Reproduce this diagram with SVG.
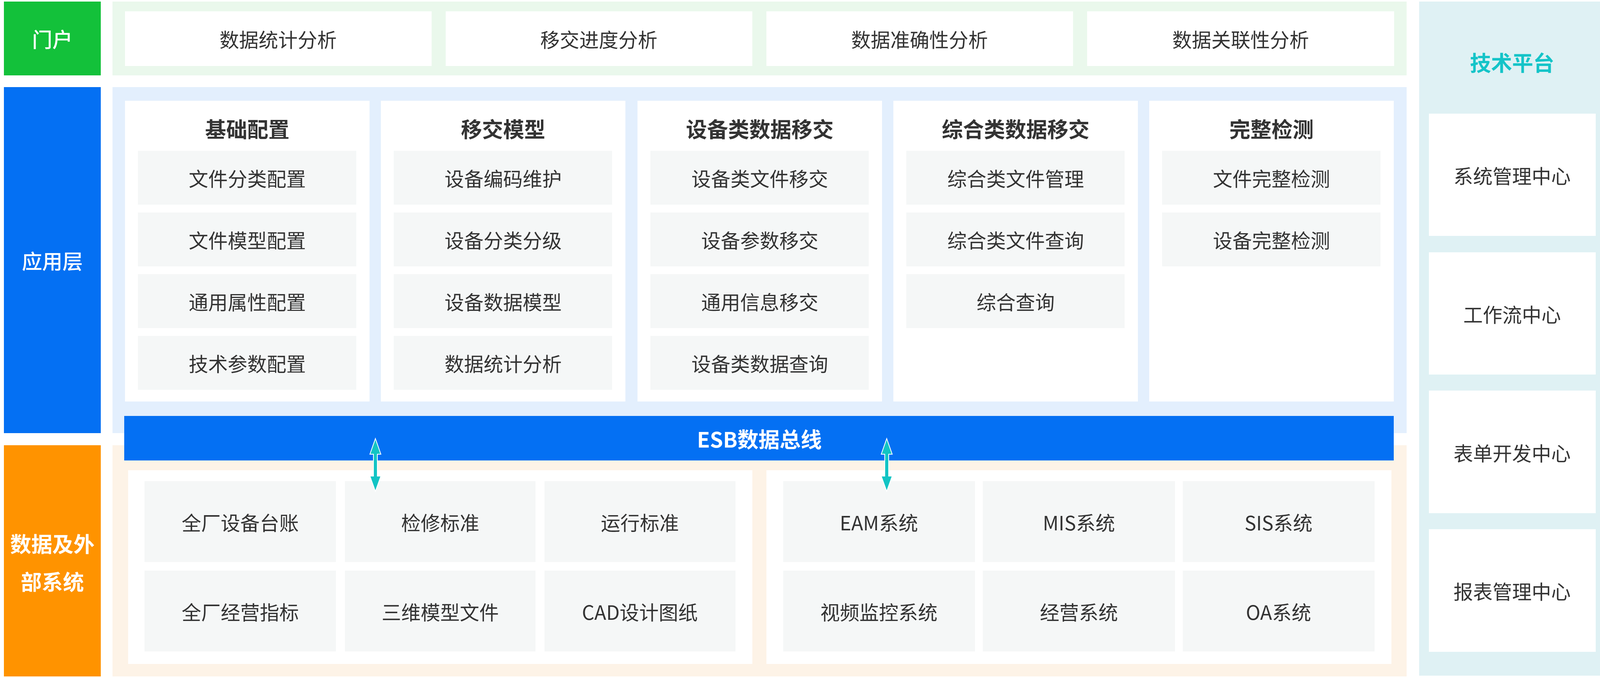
<svg xmlns="http://www.w3.org/2000/svg" width="4125" height="1736" viewBox="0 0 4125 1736">
<style>
text{font-family:"Noto Sans CJK SC","Noto Sans",sans-serif;text-anchor:middle;dominant-baseline:central}
.t{font-size:50px;fill:#333}
.b{font-size:54px;font-weight:bold;fill:#333}
.w{font-size:52px;fill:#fff;font-weight:500}
.wb{font-size:54px;fill:#fff;font-weight:bold}
.box{fill:#fff}
.cell{fill:#f5f7f7}
</style>
<rect width="4125" height="1736" fill="#fff"/>
<g id="portal">
<rect x="10" y="4" width="248" height="189" fill="#13c13a"/><text class="w" x="134" y="98">门户</text>
<rect x="288" y="4" width="3313" height="189" fill="#eaf8ec"/>
<rect class="box" x="320" y="29" width="785" height="140"/><text class="t" x="712" y="99">数据统计分析</text>
<rect class="box" x="1141" y="29" width="785" height="140"/><text class="t" x="1533" y="99">移交进度分析</text>
<rect class="box" x="1962" y="29" width="785" height="140"/><text class="t" x="2354" y="99">数据准确性分析</text>
<rect class="box" x="2783" y="29" width="786" height="140"/><text class="t" x="3176" y="99">数据关联性分析</text>
</g>
<g id="app">
<rect x="10" y="223" width="248" height="886" fill="#0470f3"/><text class="w" x="134" y="666">应用层</text>
<rect x="288" y="223" width="3313" height="886" fill="#e3effd"/>
<rect class="box" x="320" y="258" width="626" height="770"/><text class="b" x="633" y="328">基础配置</text>
<rect class="cell" x="353" y="386" width="559" height="138"/><text class="t" x="633" y="455">文件分类配置</text>
<rect class="cell" x="353" y="544" width="559" height="138"/><text class="t" x="633" y="613">文件模型配置</text>
<rect class="cell" x="353" y="702" width="559" height="138"/><text class="t" x="633" y="771">通用属性配置</text>
<rect class="cell" x="353" y="860" width="559" height="138"/><text class="t" x="633" y="929">技术参数配置</text>
<rect class="box" x="975" y="258" width="626" height="770"/><text class="b" x="1288" y="328">移交模型</text>
<rect class="cell" x="1008" y="386" width="559" height="138"/><text class="t" x="1288" y="455">设备编码维护</text>
<rect class="cell" x="1008" y="544" width="559" height="138"/><text class="t" x="1288" y="613">设备分类分级</text>
<rect class="cell" x="1008" y="702" width="559" height="138"/><text class="t" x="1288" y="771">设备数据模型</text>
<rect class="cell" x="1008" y="860" width="559" height="138"/><text class="t" x="1288" y="929">数据统计分析</text>
<rect class="box" x="1632" y="258" width="626" height="770"/><text class="b" x="1945" y="328">设备类数据移交</text>
<rect class="cell" x="1665" y="386" width="559" height="138"/><text class="t" x="1945" y="455">设备类文件移交</text>
<rect class="cell" x="1665" y="544" width="559" height="138"/><text class="t" x="1945" y="613">设备参数移交</text>
<rect class="cell" x="1665" y="702" width="559" height="138"/><text class="t" x="1945" y="771">通用信息移交</text>
<rect class="cell" x="1665" y="860" width="559" height="138"/><text class="t" x="1945" y="929">设备类数据查询</text>
<rect class="box" x="2287" y="258" width="626" height="770"/><text class="b" x="2600" y="328">综合类数据移交</text>
<rect class="cell" x="2320" y="386" width="559" height="138"/><text class="t" x="2600" y="455">综合类文件管理</text>
<rect class="cell" x="2320" y="544" width="559" height="138"/><text class="t" x="2600" y="613">综合类文件查询</text>
<rect class="cell" x="2320" y="702" width="559" height="138"/><text class="t" x="2600" y="771">综合查询</text>
<rect class="box" x="2942" y="258" width="626" height="770"/><text class="b" x="3255" y="328">完整检测</text>
<rect class="cell" x="2975" y="386" width="559" height="138"/><text class="t" x="3255" y="455">文件完整检测</text>
<rect class="cell" x="2975" y="544" width="559" height="138"/><text class="t" x="3255" y="613">设备完整检测</text>
</g>
<g id="data">
<rect x="10" y="1140" width="248" height="592" fill="#ff9300"/>
<text class="wb" x="134" y="1390">数据及外</text><text class="wb" x="134" y="1487">部系统</text>
<rect x="288" y="1140" width="3313" height="592" fill="#fdf3e7"/>
<rect class="box" x="328" y="1204" width="1598" height="496"/>
<rect class="cell" x="370" y="1232" width="490" height="207"/><text class="t" x="615" y="1336">全厂设备台账</text>
<rect class="cell" x="883" y="1232" width="488" height="207"/><text class="t" x="1127" y="1336">检修标准</text>
<rect class="cell" x="1394" y="1232" width="489" height="207"/><text class="t" x="1638" y="1336">运行标准</text>
<rect class="cell" x="370" y="1461" width="490" height="207"/><text class="t" x="615" y="1565">全厂经营指标</text>
<rect class="cell" x="883" y="1461" width="488" height="207"/><text class="t" x="1127" y="1565">三维模型文件</text>
<rect class="cell" x="1394" y="1461" width="489" height="207"/><text class="t" x="1638" y="1565">CAD设计图纸</text>
<rect class="box" x="1962" y="1204" width="1600" height="496"/>
<rect class="cell" x="2005" y="1232" width="491" height="207"/><text class="t" x="2250" y="1336">EAM系统</text>
<rect class="cell" x="2516" y="1232" width="492" height="207"/><text class="t" x="2762" y="1336">MIS系统</text>
<rect class="cell" x="3028" y="1232" width="491" height="207"/><text class="t" x="3273" y="1336">SIS系统</text>
<rect class="cell" x="2005" y="1461" width="491" height="207"/><text class="t" x="2250" y="1565">视频监控系统</text>
<rect class="cell" x="2516" y="1461" width="492" height="207"/><text class="t" x="2762" y="1565">经营系统</text>
<rect class="cell" x="3028" y="1461" width="491" height="207"/><text class="t" x="3273" y="1565">OA系统</text>
</g>
<g id="esb">
<rect x="318" y="1065" width="3250" height="114" fill="#0470f3"/>
<text class="wb" x="1944" y="1122">ESB数据总线</text>
</g>
<g id="tech">
<rect x="3633" y="4" width="477" height="1726" fill="#dff1f4"/>
<text x="3871" y="158" style="font-size:54px;font-weight:bold;fill:#14c4c8">技术平台</text>
<rect class="box" x="3658" y="291" width="427" height="313"/><text class="t" x="3871" y="448">系统管理中心</text>
<rect class="box" x="3658" y="646" width="427" height="313"/><text class="t" x="3871" y="803">工作流中心</text>
<rect class="box" x="3658" y="1000" width="427" height="314"/><text class="t" x="3871" y="1158">表单开发中心</text>
<rect class="box" x="3658" y="1355" width="427" height="314"/><text class="t" x="3871" y="1512">报表管理中心</text>
</g>
<g id="connectors" fill="#12c4c4" stroke="#fff" stroke-width="2">
<path d="M961 1123 L975 1163 L966 1163 L966 1219 L975 1219 L961 1258 L947 1219 L956 1219 L956 1163 L947 1163 Z"/>
<path d="M2270 1123 L2284 1163 L2275 1163 L2275 1219 L2284 1219 L2270 1258 L2256 1219 L2265 1219 L2265 1163 L2256 1163 Z"/>
</g>
</svg>
